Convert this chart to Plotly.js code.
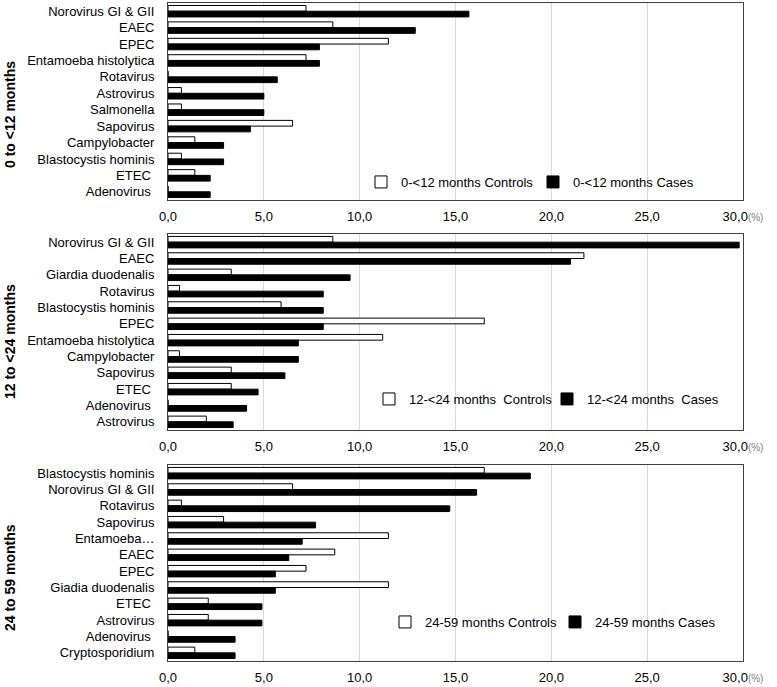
<!DOCTYPE html>
<html>
<head>
<meta charset="utf-8">
<script src="https://cdn.plot.ly/plotly-3.0.1.min.js"></script>
<style>html,body{margin:0;padding:0;background:#fff;}#chart{width:777px;height:687px;}</style>
</head>
<body>
<div id="chart"></div>
<script>
// Panel 1: 0 to <12 months
var cat1 = ["Norovirus GI & GII","EAEC","EPEC","Entamoeba histolytica","Rotavirus","Astrovirus","Salmonella","Sapovirus","Campylobacter","Blastocystis hominis","ETEC\u00a0","Adenovirus\u00a0"];
var controls1 = [7.2, 8.6, 11.5, 7.2, 0, 0.7, 0.7, 6.5, 1.4, 0.7, 1.4, 0];
var cases1    = [15.7, 12.9, 7.9, 7.9, 5.7, 5.0, 5.0, 4.3, 2.9, 2.9, 2.2, 2.2];

// Panel 2: 12 to <24 months
var cat2 = ["Norovirus GI & GII","EAEC","Giardia duodenalis","Rotavirus","Blastocystis hominis","EPEC","Entamoeba histolytica","Campylobacter","Sapovirus","ETEC\u00a0","Adenovirus\u00a0","Astrovirus"];
var controls2 = [8.6, 21.7, 3.3, 0.6, 5.9, 16.5, 11.2, 0.6, 3.3, 3.3, 0, 2.0];
var cases2    = [29.8, 21.0, 9.5, 8.1, 8.1, 8.1, 6.8, 6.8, 6.1, 4.7, 4.1, 3.4];

// Panel 3: 24 to 59 months
var cat3 = ["Blastocystis hominis","Norovirus GI & GII","Rotavirus","Sapovirus","Entamoeba\u2026","EAEC","EPEC","Giadia duodenalis","ETEC\u00a0","Astrovirus","Adenovirus\u00a0","Cryptosporidium"];
var controls3 = [16.5, 6.5, 0.7, 2.9, 11.5, 8.7, 7.2, 11.5, 2.1, 2.1, 0, 1.4];
var cases3    = [18.9, 16.1, 14.7, 7.7, 7.0, 6.3, 5.6, 5.6, 4.9, 4.9, 3.5, 3.5];

var panelTitles = ["0 to <12 months", "12 to <24 months", "24 to 59 months"];
var controlNames = ["0-<12 months Controls", "12-<24 months  Controls", "24-59 months Controls"];
var caseNames = ["0-<12 months Cases", "12-<24 months  Cases", "24-59 months Cases"];

var tickVals = [0, 5, 10, 15, 20, 25, 30];
var tickText = ["0,0", "5,0", "10,0", "15,0", "20,0", "25,0", "30,0<span style='font-size:10px;color:#7f7f7f'>(%)</span>"];

var FONT = "Arial, 'Liberation Sans', sans-serif";
var cats = [cat1, cat2, cat3];
var ctrls = [controls1, controls2, controls3];
var cass = [cases1, cases2, cases3];
var axSuffix = ["", "2", "3"];
var legendIds = ["legend", "legend2", "legend3"];

var data = [];
for (var i = 0; i < 3; i++) {
  data.push({
    type: "bar", orientation: "h",
    y: cats[i], x: ctrls[i], name: controlNames[i],
    xaxis: "x" + axSuffix[i], yaxis: "y" + axSuffix[i],
    legend: legendIds[i],
    marker: {color: "#ffffff", line: {color: "#000000", width: 1}},
    hoverinfo: "x+y"
  });
  data.push({
    type: "bar", orientation: "h",
    y: cats[i], x: cass[i], name: caseNames[i],
    xaxis: "x" + axSuffix[i], yaxis: "y" + axSuffix[i],
    legend: legendIds[i],
    marker: {color: "#000000", line: {color: "#000000", width: 1}},
    hoverinfo: "x+y"
  });
}

var W = 777, H = 687;
var xDom = [168 / W, 743 / W];
var yPix = [[3, 200], [234, 430], [465, 661]];
var titleY = [115, 342, 578];
var legendX = [361, 369, 385];
var legendY = [182, 399, 622];
var entryW = [127, 133, 125];

var layout = {
  width: W, height: H,
  margin: {l: 0, r: 0, t: 0, b: 0},
  paper_bgcolor: "#ffffff", plot_bgcolor: "#ffffff",
  separators: ",.",
  barmode: "group", bargap: 0.3, bargroupgap: 0.0,
  font: {family: FONT, size: 13, color: "#000000"},
  annotations: [],
  showlegend: true
};

for (var i = 0; i < 3; i++) {
  var s = axSuffix[i];
  layout["xaxis" + s] = {
    domain: xDom, range: [0, 30], anchor: "y" + s,
    tickmode: "array", tickvals: tickVals, ticktext: tickText,
    showgrid: true, gridcolor: "#d9d9d9", gridwidth: 1,
    zeroline: false, showline: true, mirror: true, linecolor: "#404040", linewidth: 1,
    ticks: "", ticklabelstandoff: 4,
    tickfont: {family: FONT, size: 13, color: "#000000"},
    fixedrange: true
  };
  layout["yaxis" + s] = {
    domain: [(H - yPix[i][1]) / H, (H - yPix[i][0]) / H], anchor: "x" + s,
    type: "category", autorange: "reversed",
    showgrid: false, zeroline: false, showline: true, mirror: true, linecolor: "#404040", linewidth: 1,
    ticks: "", ticklabelstandoff: 10,
    tickfont: {family: FONT, size: 13, color: "#000000"},
    fixedrange: true
  };
  layout[legendIds[i]] = {
    orientation: "h", x: legendX[i] / W, xanchor: "left",
    y: (H - legendY[i]) / H, yanchor: "middle",
    bgcolor: "rgba(0,0,0,0)", borderwidth: 0,
    font: {family: FONT, size: 13, color: "#000000"},
    entrywidth: entryW[i], entrywidthmode: "pixels",
    traceorder: "normal"
  };
  layout.annotations.push({
    text: "<b>" + panelTitles[i].replace("<", "&lt;") + "</b>",
    xref: "paper", yref: "paper",
    x: 10 / W, y: (H - titleY[i]) / H,
    xanchor: "center", yanchor: "middle",
    textangle: -90, showarrow: false,
    font: {family: FONT, size: 14, color: "#000000"}
  });
}

Plotly.newPlot("chart", data, layout, {displayModeBar: false, staticPlot: true});
</script>
</body>
</html>
